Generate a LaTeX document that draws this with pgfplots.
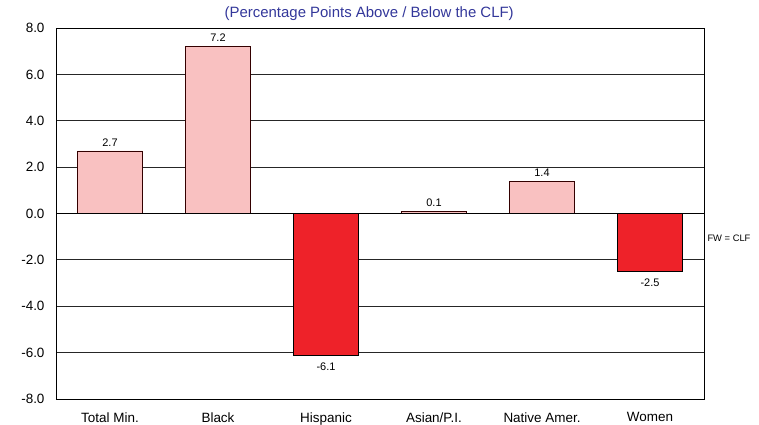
\documentclass[border=0pt]{standalone}
\usepackage{pgfplots}
\pgfplotsset{compat=1.18}
\usepackage{fontspec}
\setmainfont{Liberation Sans}
\definecolor{pinkbar}{HTML}{F9C1C1}
\definecolor{redbar}{HTML}{EE2229}
\definecolor{titleblue}{HTML}{33379A}
\begin{document}
\begin{tikzpicture}
\useasboundingbox (-56bp,-26bp) rectangle (703bp,399bp);
\begin{axis}[
  at={(0,0)}, anchor=south west,
  scale only axis,
  width=648bp, height=371bp,
  xmin=-0.5, xmax=5.5,
  ymin=-8, ymax=8,
  ytick={-8,-6,...,8},
  xtick={0,1,2,3,4,5},
  xticklabels={Total Min.,Black,Hispanic,Asian/P.I.,Native Amer.,Women},
  yticklabel style={xshift=-8bp,/pgf/number format/.cd,fixed,fixed zerofill,precision=1,assume math mode=true},
  tick label style={font=\fontsize{13.5}{15}\selectfont},
  major tick length=0pt,
  ymajorgrids,
  grid style={black!85, line width=0.8pt},
  axis line style={black, line width=1pt},
  ybar, bar width=0.6, bar shift=0pt,
  nodes near coords,
  every node near coord/.append style={font=\fontsize{11}{13}\selectfont, /pgf/number format/.cd,fixed,fixed zerofill,precision=1,assume math mode=true},
  xticklabel style={yshift=-10bp},
  clip=false,
]
\addplot[fill=pinkbar, draw=black!80!red, line width=0.6pt, every node near coord/.append style={/tikz/yshift=1bp}] coordinates {(0,2.7) (1,7.2) (3,0.1) (4,1.4)};
\addplot[fill=redbar, draw=black, line width=0.6pt, every node near coord/.append style={/tikz/yshift=-4bp}] coordinates {(2,-6.1) (5,-2.5)};
\draw[black, line width=1pt] (axis cs:-0.5,0) -- (axis cs:5.5,0);
\node[anchor=west, font=\fontsize{9.4}{11}\selectfont] at (axis cs:5.5,-1.05) {FW = CLF};
\node[anchor=south, font=\fontsize{15}{17}\selectfont, text=titleblue] at (axis cs:2.4,8) [yshift=4bp] {(Percentage Points Above / Below the CLF)};
\end{axis}
\end{tikzpicture}
\end{document}
